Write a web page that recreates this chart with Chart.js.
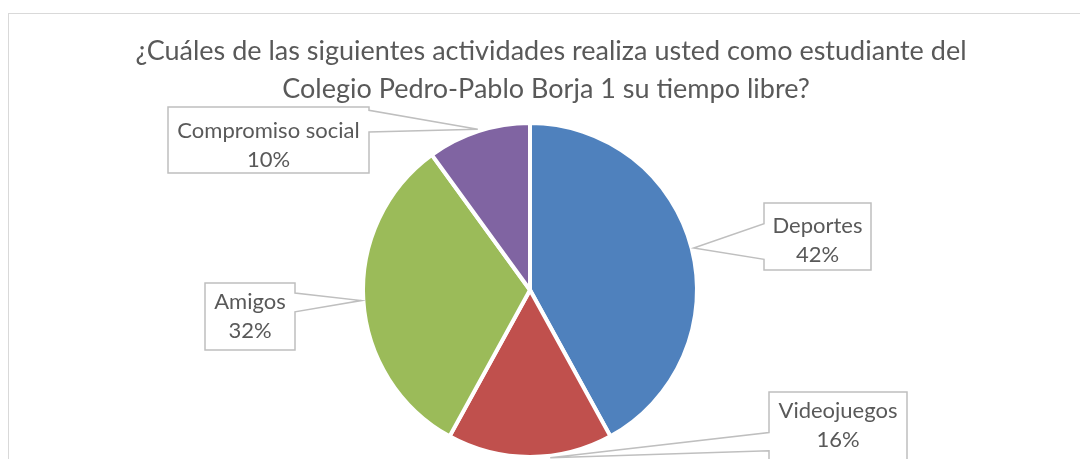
<!DOCTYPE html>
<html>
<head>
<meta charset="utf-8">
<script src="https://cdn.jsdelivr.net/npm/chart.js@4.4.1/dist/chart.umd.min.js"></script>
<style>
  html, body { margin: 0; padding: 0; background: #fff; }
  #wrap { width: 1080px; height: 459px; }
</style>
</head>
<body>
<div id="wrap"><canvas id="pieChart" width="1080" height="459"></canvas></div>
<script>
// data
const categories = ['Deportes', 'Videojuegos', 'Amigos', 'Compromiso social'];
const percentages = [42, 16, 32, 10];
const sliceColors = ['#4F81BD', '#C0504D', '#9BBB59', '#8064A2'];
const titleLines = [
    '¿Cuáles de las siguientes actividades realiza usted como estudiante del',
    'Colegio Pedro-Pablo Borja 1 su tiempo libre?'
];

const textColor = '#595959';

// frame + title
const framePlugin = {
    id: 'frame',
    beforeDraw(chart) {
        const ctx = chart.ctx;
        ctx.save();
        ctx.fillStyle = '#fff';
        ctx.fillRect(0, 0, chart.width, chart.height);
        ctx.strokeStyle = '#D9D9D9';
        ctx.lineWidth = 1;
        ctx.strokeRect(8.5, 13.5, 1200, 600);
        ctx.fillStyle = textColor;
        ctx.font = '27px Lato';
        ctx.textAlign = 'center';
        ctx.textBaseline = 'middle';
        ctx.fillText(titleLines[0], 551, 51);
        ctx.fillText(titleLines[1], 546, 89);
        ctx.restore();
    }
};

// excel-like wedge callouts
const calloutPlugin = {
    id: 'callouts',
    afterDatasetsDraw(chart, args, opts) {
        const ctx = chart.ctx;
        const meta = chart.getDatasetMeta(0);
        ctx.save();
        meta.data.forEach((arc, i) => {
            const b = opts.boxes[i];
            const mid = (arc.startAngle + arc.endAngle) / 2 + (b.nudge || 0);
            const r = arc.outerRadius + 2;
            const tx = arc.x + Math.cos(mid) * r;
            const ty = arc.y + Math.sin(mid) * r;
            const y1 = b.y + b.h * b.f1;
            const y2 = b.y + b.h * b.f2;

            ctx.beginPath();
            if (b.side === 'right') {
                ctx.moveTo(b.x, b.y);
                ctx.lineTo(b.x + b.w, b.y);
                ctx.lineTo(b.x + b.w, y1);
                ctx.lineTo(tx, ty);
                ctx.lineTo(b.x + b.w, y2);
                ctx.lineTo(b.x + b.w, b.y + b.h);
                ctx.lineTo(b.x, b.y + b.h);
            } else {
                ctx.moveTo(b.x, b.y);
                ctx.lineTo(b.x + b.w, b.y);
                ctx.lineTo(b.x + b.w, b.y + b.h);
                ctx.lineTo(b.x, b.y + b.h);
                ctx.lineTo(b.x, y2);
                ctx.lineTo(tx, ty);
                ctx.lineTo(b.x, y1);
            }
            ctx.closePath();
            ctx.fillStyle = '#fff';
            ctx.fill();
            ctx.strokeStyle = '#BFBFBF';
            ctx.lineWidth = 1.5;
            ctx.stroke();

            const cx = b.x + b.w / 2;
            const cy = b.y + b.textY;
            ctx.fillStyle = textColor;
            ctx.font = '22px Lato';
            ctx.textAlign = 'center';
            ctx.textBaseline = 'middle';
            ctx.fillText(chart.data.labels[i], cx, cy - 14);
            ctx.fillText(chart.data.datasets[0].data[i] + '%', cx, cy + 15);
        });
        ctx.restore();
    }
};

new Chart(document.getElementById('pieChart'), {
    type: 'pie',
    data: {
        labels: categories,
        datasets: [{
            data: percentages,
            backgroundColor: sliceColors,
            borderColor: '#fff',
            borderWidth: 4
        }]
    },
    options: {
        responsive: false,
        devicePixelRatio: 1,
        animation: false,
        layout: {
            padding: { top: 121, bottom: 0, left: 361, right: 381 }
        },
        plugins: {
            legend: { display: false },
            tooltip: { enabled: false },
            title: { display: false },
            callouts: {
                boxes: [
                    { x: 764, y: 203, w: 107, h: 67, side: 'left', f1: 0.31, f2: 0.84, textY: 37 },
                    { x: 769, y: 392, w: 138, h: 70, side: 'left', f1: 0.58, f2: 0.84, textY: 33, nudge: -0.12 },
                    { x: 205, y: 283, w: 90, h: 67, side: 'right', f1: 0.15, f2: 0.43, textY: 33 },
                    { x: 168, y: 107, w: 201, h: 66, side: 'right', f1: 0.05, f2: 0.38, textY: 38 }
                ]
            }
        }
    },
    plugins: [framePlugin, calloutPlugin]
});
</script>
</body>
</html>
